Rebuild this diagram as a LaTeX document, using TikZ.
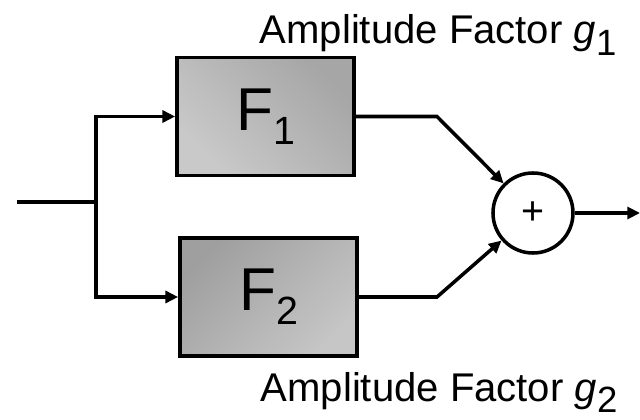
\documentclass[tikz,border=0pt]{standalone}
\usepackage{fontspec}
\setmainfont{Liberation Sans}
\usetikzlibrary{arrows.meta}

% name with a lowered index, e.g. F_1
\newcommand{\lowidx}[2]{#1\raisebox{-10pt}{\fontsize{28}{28}\selectfont #2}}

\begin{document}
\begin{tikzpicture}[x=0.025cm,y=-0.025cm,>={Triangle[length=9pt,width=8.5pt]},line width=2.5pt,
    block/.style={draw,rectangle,minimum width=4.43cm,minimum height=2.95cm,inner sep=0pt,font=\fontsize{43}{43}\selectfont},
    sum node/.style={draw,circle,minimum size=2cm,inner sep=0pt,font=\fontsize{28}{28}\selectfont},
    factor/.style={anchor=base west,inner sep=0pt,font=\fontsize{28.5}{28.5}\selectfont}]
    \useasboundingbox (0,0) rectangle (640,420);

    \node[block,top color=gray!70,bottom color=gray!42,shading angle=-45] (f1) at (265.5,116.5) {\lowidx{F}{1}};
    \node[block,top color=gray!75,bottom color=gray!45,shading angle=45] (f2) at (268.5,297) {\lowidx{F}{2}};
    \node[sum node] (sum) at (533,213) {+};

    \node[factor] (g1) at (258,44) {Amplitude Factor \textit{g}\raisebox{-8pt}{\fontsize{26}{26}\selectfont 1}};
    \node[factor] (g2) at (259,401) {Amplitude Factor \textit{g}\raisebox{-8pt}{\fontsize{26}{26}\selectfont 2}};

    \coordinate (in) at (17,202);
    \coordinate (split) at (96,202);
    \coordinate (bend1) at (437,116.5);
    \coordinate (bend2) at (437,297);
    \coordinate (out) at (640,213);

    \draw (in) -- (split);
    \draw[->] (split) |- (f1.west);
    \draw[->] (split) |- (f2.west);
    \draw[->] (f1.east) -- (bend1) -- (sum);
    \draw[->] (f2.east) -- (bend2) -- (sum);
    \draw[->] (sum) -- (out);
\end{tikzpicture}
\end{document}
